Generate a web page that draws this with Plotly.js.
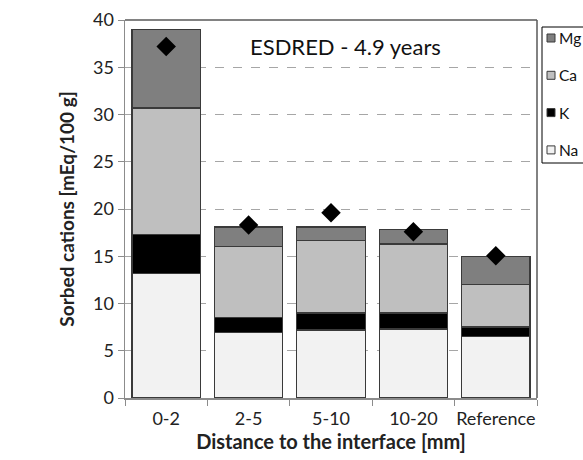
<!DOCTYPE html>
<html>
<head>
<meta charset="utf-8">
<script src="https://cdn.plot.ly/plotly-3.0.1.min.js"></script>
<style>html,body{margin:0;padding:0;background:#fff;}#chart{width:583px;height:460px;}</style>
</head>
<body>
<div id="chart"></div>
<script>
const categories = ["0-2", "2-5", "5-10", "10-20", "Reference"];
const na = [13.2, 6.9, 7.2, 7.3, 6.5];
const k  = [4.1, 1.6, 1.8, 1.7, 1.0];
const ca = [13.4, 7.5, 7.65, 7.3, 4.5];
const mg = [8.3, 2.1, 1.45, 1.55, 3.0];
const measured = [37.2, 18.3, 19.6, 17.6, 15.05];
const legendNames = ["Mg", "Ca", "K", "Na"];

const font = "Lato, 'Open Sans', sans-serif";
const colors = {Na: "#f2f2f2", K: "#000000", Ca: "#bfbfbf", Mg: "#7f7f7f"};
const outline = {color: "#3a3a3a", width: 1.3};

function barTrace(name, vals) {
  return {type: "bar", name: name, x: categories, y: vals, showlegend: false,
    marker: {color: colors[name], line: outline}, hoverinfo: "y"};
}

const data = [
  barTrace("Na", na),
  barTrace("K", k),
  barTrace("Ca", ca),
  barTrace("Mg", mg),
  {type: "scatter", mode: "markers", x: categories, y: measured, showlegend: false,
   marker: {symbol: "diamond", size: 15, color: "#000000"}}
];

// plot area: l=125, w=412, t=20, h=378 -> pixel helpers for the legend box
const L = 125, W = 412, B = 398, H = 378;
const px = v => (v - L) / W;
const py = v => (B - v) / H;

const shapes = [
  {type: "line", xref: "paper", yref: "paper", x0: 0, x1: 1, y0: 1, y1: 1,
   line: {color: "#595959", width: 1.5}},
  {type: "line", xref: "paper", yref: "paper", x0: 1, x1: 1, y0: 0, y1: 1,
   line: {color: "#595959", width: 1.5}},
  {type: "rect", xref: "paper", yref: "paper", x0: px(542), x1: px(610), y0: py(163), y1: py(27),
   line: {color: "#000", width: 1}, fillcolor: "rgba(0,0,0,0)"}
];
const annotations = [
  {text: "ESDRED - 4.9 years", xref: "paper", yref: "paper", x: 0.534, y: 0.93,
   xanchor: "center", yanchor: "middle", showarrow: false, font: {size: 22, color: "#111"}}
];
legendNames.forEach((n, i) => {
  const cy = 38 + 37.3 * i;
  shapes.push({type: "rect", xref: "paper", yref: "paper",
    x0: px(547), x1: px(555), y0: py(cy + 4), y1: py(cy - 4),
    line: {color: "#3a3a3a", width: 1}, fillcolor: colors[n]});
  annotations.push({text: n, xref: "paper", yref: "paper", x: px(557), y: py(cy),
    xanchor: "left", yanchor: "middle", showarrow: false, font: {size: 15.5, color: "#111"}});
});

const layout = {
  width: 583, height: 460,
  margin: {l: 125, r: 46, t: 20, b: 62, autoexpand: false},
  barmode: "stack", bargap: 0.17,
  paper_bgcolor: "#fff", plot_bgcolor: "#fff",
  font: {family: font, size: 16, color: "#222"},
  showlegend: false,
  xaxis: {type: "category", showline: true, linecolor: "#8c8c8c", linewidth: 1.5,
    ticks: "outside", tickson: "boundaries", ticklen: 6, tickcolor: "#8c8c8c",
    tickfont: {size: 18}, tickangle: 0, ticklabelstandoff: 4,
    title: {text: "<b>Distance to the interface [mm]</b>", font: {size: 20}, standoff: 7}},
  yaxis: {range: [0, 40], dtick: 5, showline: true, linecolor: "#8c8c8c", linewidth: 1.5,
    ticks: "outside", ticklen: 6, tickcolor: "#8c8c8c", tickfont: {size: 18},
    showgrid: true, gridcolor: "#a6a6a6", griddash: "dash", gridwidth: 1,
    zeroline: false,
    title: {text: "<b>Sorbed cations [mEq/100 g]</b>", font: {size: 19}, standoff: 13}},
  shapes: shapes,
  annotations: annotations
};

Plotly.newPlot("chart", data, layout, {displayModeBar: false, staticPlot: true});
</script>
</body>
</html>
